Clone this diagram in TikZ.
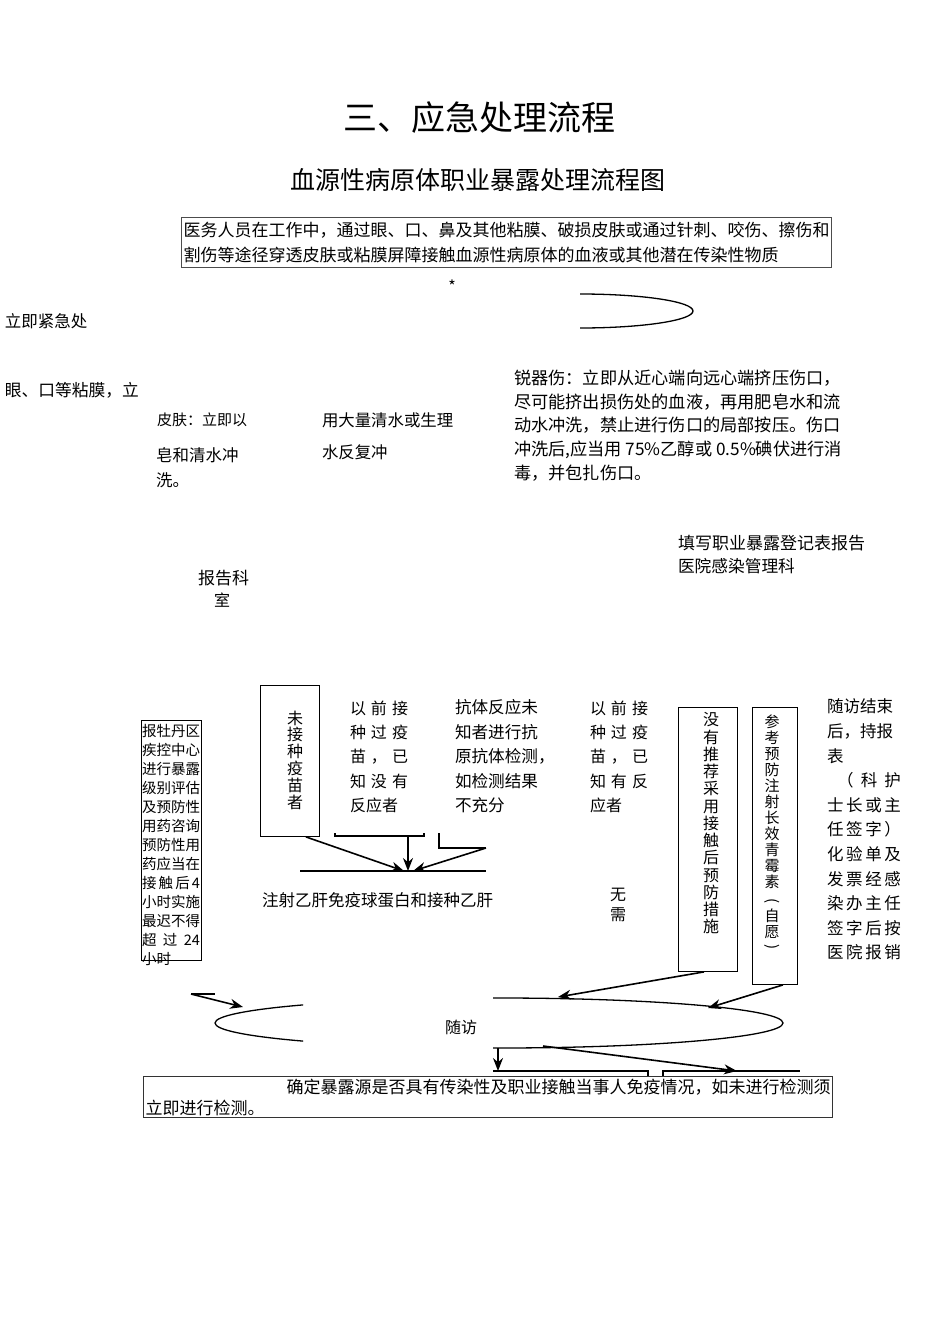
\documentclass[tikz,border=0pt]{standalone}
\usepackage{fontspec}
\usepackage{graphicx}
\setmainfont{Noto Sans CJK SC}
\usetikzlibrary{arrows.meta,calc}
\newcommand\myfs[2]{\fontsize{#1}{#2}\selectfont}
\newcommand\jf[2]{\hbox to #1pt{#2}}
\newcommand\vparen[1]{\rotatebox[origin=c]{-90}{#1}}
\begin{document}
\begin{tikzpicture}[x=1pt,y=-1pt,
  txt/.style={inner sep=0pt, outer sep=0pt, anchor=north west, align=left},
  ltxt/.style={inner sep=0pt, outer sep=0pt, anchor=west},
  vtxt/.style={inner sep=0pt, outer sep=0pt, anchor=north, align=center},
  bx/.style={draw=black, line width=0.9pt, inner sep=0pt},
  ln/.style={line width=1.3pt},
  arr/.style={line width=1.6pt, -{Stealth[length=13pt,width=10pt]}},
]
\useasboundingbox[fill=white] (0,0) rectangle (950,1344);

% titles
\node[inner sep=0pt, font={\myfs{34}{34}}] (title) at (479,118) {三、应急处理流程};
\node[inner sep=0pt, font={\myfs{25}{25}}] (sub) at (478,180) {血源性病原体职业暴露处理流程图};

% top box
\node[bx, draw=black!70, line width=1.2pt, anchor=north west, minimum width=650pt, minimum height=50pt,
      text width=646pt, align=left, inner xsep=2pt, font={\myfs{17}{25}}] (expo) at (181,217)
  {医务人员在工作中，通过眼、口、鼻及其他粘膜、破损皮肤或通过针刺、咬伤、擦伤和\\割伤等途径穿透皮肤或粘膜屏障接触血源性病原体的血液或其他潜在传染性物质};
\node[inner sep=0pt, font={\myfs{16}{16}}] (star) at (452,286) {*};

% top curve
\draw[ln] (580,294) .. controls (642.4,294) and (693,301.6) .. (693,311)
          .. controls (693,320.4) and (642.4,328) .. (580,328);

% left texts
\node[ltxt, font={\myfs{16.5}{16.5}}] (l1) at (5,321) {立即紧急处};
\node[ltxt, font={\myfs{16.75}{16.75}}] (l2) at (5,390) {眼、口等粘膜，立};
\node[ltxt, font={\myfs{15}{15}}] (skin1) at (157,420) {皮肤：立即以};
\node[ltxt, font={\myfs{16.4}{16.4}}] (rinse1) at (322,420) {用大量清水或生理};
\node[ltxt, font={\myfs{16.4}{16.4}}] (rinse2) at (322,452) {水反复冲};
\node[ltxt, font={\myfs{16.5}{16.5}}] (soap1) at (156,455) {皂和清水冲};
\node[ltxt, font={\myfs{16.5}{16.5}}] (soap2) at (156,480) {洗。};

% sharp injury
\node[txt, font={\myfs{17.2}{23.7}}] (sharp) at (514,370) {锐器伤：立即从近心端向远心端挤压伤口，\\尽可能挤出损伤处的血液，再用肥皂水和流\\动水冲洗，禁止进行伤口的局部按压。伤口\\冲洗后,应当用 75\%乙醇或 0.5\%碘伏进行消\\毒，并包扎伤口。};

% report texts
\node[ltxt, font={\myfs{17}{17}}] (reg1) at (678,543) {填写职业暴露登记表报告};
\node[ltxt, font={\myfs{16.7}{16.7}}] (reg2) at (678,566) {医院感染管理科};
\node[ltxt, font={\myfs{17}{17}}] (rep1) at (198,578) {报告科};
\node[ltxt, font={\myfs{16}{16}}] (rep2) at (214,600) {室};

% CDC box
\node[bx, anchor=north west, minimum width=60pt, minimum height=240pt] (cdc) at (141,720) {};
\node[txt, font={\myfs{14.5}{19}}] (cdctxt) at (142,724.4) {%
\jf{58}{报\hfil 牡\hfil 丹\hfil 区}\\
\jf{58}{疾\hfil 控\hfil 中\hfil 心}\\
\jf{58}{进\hfil 行\hfil 暴\hfil 露}\\
\jf{58}{级\hfil 别\hfil 评\hfil 估}\\
\jf{58}{及\hfil 预\hfil 防\hfil 性}\\
\jf{58}{用\hfil 药\hfil 咨\hfil 询}\\
\jf{58}{预\hfil 防\hfil 性\hfil 用}\\
\jf{58}{药\hfil 应\hfil 当\hfil 在}\\
\jf{58}{接\hfil 触\hfil 后\hfil 4}\\
\jf{58}{小\hfil 时\hfil 实\hfil 施}\\
\jf{58}{最\hfil 迟\hfil 不\hfil 得}\\
\jf{58}{超\hfil 过\hfil 24}\\
小时};

% unvaccinated box
\node[bx, anchor=north west, minimum width=59pt, minimum height=151pt] (unvac) at (260,685) {};
\node[vtxt, font={\myfs{16}{16.8}}] (unvactxt) at (295,710.6) {未\\接\\种\\疫\\苗\\者};

% middle text columns
\node[txt, font={\myfs{16}{24.4}}] (nores) at (350,700.6) {%
\jf{58}{以\hfil 前\hfil 接}\\
\jf{58}{种\hfil 过\hfil 疫}\\
\jf{58}{苗\hfil ，\hfil 已}\\
\jf{58}{知\hfil 没\hfil 有}\\
反应者};
\node[txt, font={\myfs{16.6}{24.5}}] (unknown) at (455,699.4) {抗体反应未\\知者进行抗\\原抗体检测，\\如检测结果\\不充分};
\node[txt, font={\myfs{16}{24.4}}] (hasres) at (590,700.6) {%
\jf{58}{以\hfil 前\hfil 接}\\
\jf{58}{种\hfil 过\hfil 疫}\\
\jf{58}{苗\hfil ，\hfil 已}\\
\jf{58}{知\hfil 有\hfil 反}\\
应者};
\node[txt, font={\myfs{16}{20}}] (noneed) at (610,888.6) {无\\需};
\node[ltxt, font={\myfs{16.5}{16.5}}] (inject) at (262,900) {注射乙肝免疫球蛋白和接种乙肝};

% right vertical boxes
\node[bx, anchor=north west, minimum width=59pt, minimum height=264pt] (norec) at (678,707) {};
\node[vtxt, font={\myfs{16}{17.25}}] (norectxt) at (711,712.6) {没\\有\\推\\荐\\采\\用\\接\\触\\后\\预\\防\\措\\施};
\node[bx, anchor=north west, minimum width=45pt, minimum height=277pt] (pen) at (752,707) {};
\node[vtxt, font={\myfs{15}{16}}] (pentxt) at (772,715) {参\\考\\预\\防\\注\\射\\长\\效\\青\\霉\\素\\[2pt]\vparen{(}\\自\\愿\\[-2pt]\vparen{)}};

% follow-up end text
\node[txt, font={\myfs{16.5}{24.6}}] (endtxt) at (827,699) {%
随访结束\\
后，持报\\
表\\
\jf{74}{\hspace*{10pt}（\hfil 科\hfil 护}\\
\jf{74}{士\hfil 长\hfil 或\hfil 主}\\
\jf{74}{任\hfil 签\hfil 字\hfil ）}\\
\jf{74}{化\hfil 验\hfil 单\hfil 及}\\
\jf{74}{发\hfil 票\hfil 经\hfil 感}\\
\jf{74}{染\hfil 办\hfil 主\hfil 任}\\
\jf{74}{签\hfil 字\hfil 后\hfil 按}\\
\jf{74}{医\hfil 院\hfil 报\hfil 销}};

% convergence connectors
\coordinate (conv) at (408,871);
\coordinate (hl) at (300,871);
\coordinate (hr) at (486,871);
\coordinate (bl) at (335,833);
\coordinate (br) at (424,833);
\coordinate (bm) at (408,836);
\coordinate (lb) at (439,833);
\coordinate (lr) at (486,848);
\draw[ln] (hl) -- (hr);
\draw[ln] (bl) -- (335,836) -- (424,836) -- (br);
\draw[ln] (lb) -- (439,848) -- (lr);
\draw[arr] ($(unvac.south east)+(-14,0)$) -- ($(conv)+(-4,0)$);
\draw[arr] (bm) -- (conv);
\draw[arr] (lr) -- ($(conv)+(5,0)$);

% follow-up ellipse (broken)
\begin{scope}
  \clip (150,980) rectangle (303,1066);
  \draw[ln] (499,1023) ellipse [x radius=284, y radius=25];
\end{scope}
\begin{scope}
  \clip (493,980) rectangle (800,1066);
  \draw[ln] (499,1023) ellipse [x radius=284, y radius=25];
\end{scope}
\node[inner sep=0pt, font={\myfs{16}{16}}] (follow) at (461,1027) {随访};

\coordinate (e1) at (558,997);
\coordinate (e2) at (708,1008);
\coordinate (e3) at (243,1007);
\coordinate (t1) at (191,994);
\coordinate (t2) at (215,994);
\draw[arr] ($(norec.south)+(-4,0)$) -- (e1);
\draw[arr] ($(pen.south)+(8,0)$) -- (e2);
\draw[ln] (t1) -- (t2);
\draw[arr] (t1) -- (e3);

% bottom connectors
\coordinate (d1) at (498,1048);
\coordinate (d2) at (498,1071);
\coordinate (d3) at (543,1046);
\coordinate (d4) at (737,1071);
\draw[arr] (d1) -- (d2);
\draw[ln] (493,1071) -- (648,1071) -- (648,1076);
\draw[ln] (663,1076) -- (663,1071) -- (800,1071);
\draw[arr] (d3) -- (d4);

% bottom box
\node[bx, draw=black!80, line width=1.1pt, anchor=north west, minimum width=689pt, minimum height=41pt,
      text width=685pt, align=left, inner xsep=2pt, font={\myfs{17}{21}}] (confirm) at (143,1076)
  {\hspace*{141pt}确定暴露源是否具有传染性及职业接触当事人免疫情况，如未进行检测须\\立即进行检测。};
\end{tikzpicture}
\end{document}
